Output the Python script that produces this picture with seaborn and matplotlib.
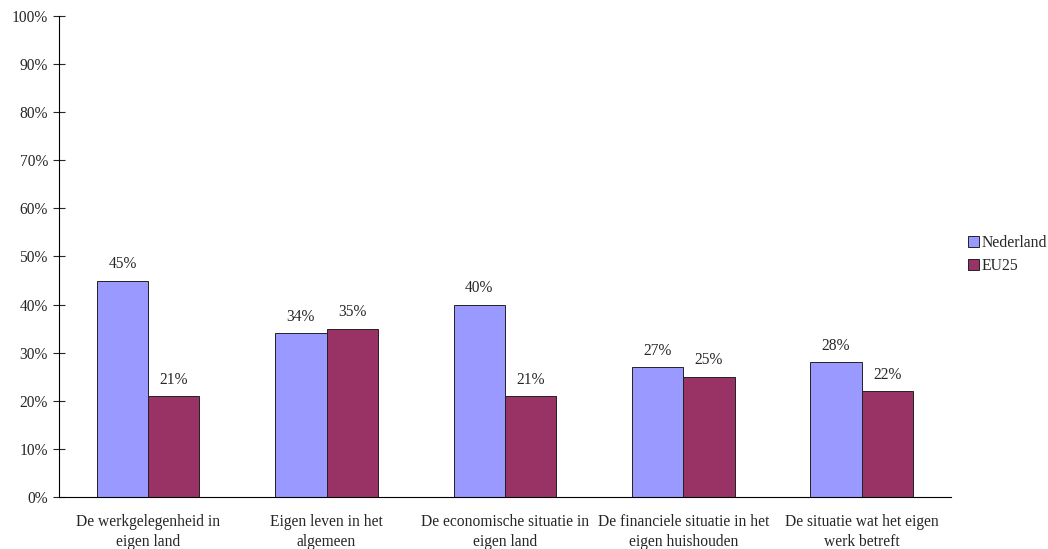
import numpy as np
import pandas as pd
import matplotlib
matplotlib.use('Agg')
import matplotlib.pyplot as plt
import seaborn as sns
from matplotlib.ticker import MultipleLocator, PercentFormatter

categories = ['De werkgelegenheid in\neigen land',
              'Eigen leven in het\nalgemeen',
              'De economische situatie in\neigen land',
              'De financiele situatie in het\neigen huishouden',
              'De situatie wat het eigen\nwerk betreft']
nederland = [45, 34, 40, 27, 28]
eu25 = [21, 35, 21, 25, 22]
series = ['Nederland', 'EU25']

df = pd.DataFrame({
    'Categorie': categories * 2,
    'Reeks': [series[0]] * len(categories) + [series[1]] * len(categories),
    'Waarde': nederland + eu25,
})

sns.set_style('white')
plt.rcParams['font.family'] = ['Liberation Serif', 'DejaVu Serif']
plt.rcParams['font.size'] = 11.2

fig = plt.figure(figsize=(10.48, 5.49), dpi=100)
ax = fig.add_axes([0.0563, 0.0947, 0.851, 0.8762])

sns.barplot(data=df, x='Categorie', y='Waarde', hue='Reeks',
            palette=['#9999FF', '#993366'], saturation=1, width=0.575,
            edgecolor='#222222', linewidth=0.7, ax=ax, legend=True)

for cont in ax.containers:
    ax.bar_label(cont, labels=[f'{v:.0f}%' for v in cont.datavalues],
                 padding=6, fontsize=11.2)

ax.set_ylim(0, 100)
ax.set_xlim(-0.5, len(categories) - 0.5)
ax.yaxis.set_major_locator(MultipleLocator(10))
ax.yaxis.set_major_formatter(PercentFormatter(decimals=0))
ax.tick_params(axis='y', direction='inout', length=8, width=0.8, left=True, pad=4)
ax.tick_params(axis='x', length=0, pad=12)
for lbl in ax.get_xticklabels():
    lbl.set_linespacing(1.35)
ax.set_xlabel('')
ax.set_ylabel('')
for side in ['top', 'right']:
    ax.spines[side].set_visible(False)
for side in ['left', 'bottom']:
    ax.spines[side].set_color('black')
    ax.spines[side].set_linewidth(0.8)

handles, labels = ax.get_legend_handles_labels()
ax.get_legend().remove()
fig.legend(handles, labels, loc='center left', bbox_to_anchor=(0.910, 0.536),
           frameon=False, handlelength=0.7, handleheight=0.7,
           handletextpad=0.15, labelspacing=0.45, fontsize=11.3)

fig.savefig('out.png', dpi=100)
